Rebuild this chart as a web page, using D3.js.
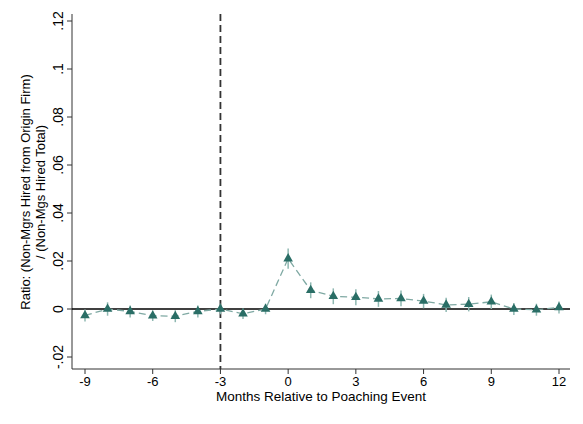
<!DOCTYPE html><html><head><script src="https://cdn.jsdelivr.net/npm/d3@7"></script>
<style>body{margin:0;background:#fff}text{font-family:"Liberation Sans",Arial,sans-serif}</style></head><body><svg id="c" width="583" height="424"></svg><script>
const months=[-9,-8,-7,-6,-5,-4,-3,-2,-1,0,1,2,3,4,5,6,7,8,9,10,11,12];
const ratio=[-0.0027,0,-0.001,-0.0028,-0.003,-0.001,0,-0.002,0,0.021,0.0078,0.0053,0.0049,0.0042,0.0044,0.0033,0.0017,0.002,0.003,0,-0.0003,0.0006];
const ciHalf=[0.0025,0.0028,0.0025,0.0022,0.0025,0.0025,0.0022,0.0022,0.0022,0.0042,0.0033,0.0033,0.0033,0.0033,0.0033,0.003,0.003,0.003,0.003,0.0025,0.0025,0.0025];
const xTicks=[-9,-6,-3,0,3,6,9,12];
const yTicks=[-0.02,0,0.02,0.04,0.06,0.08,0.1,0.12];
const yLabels=["-.02","0",".02",".04",".06",".08",".1",".12"];
const svg=d3.select("#c");
const x=d3.scaleLinear().domain([-9,12]).range([85,559]);
const y=d3.scaleLinear().domain([0,0.02]).range([309,261]);
const L=72,R=570,T=14,B=369;
const col="#2a6e66";
svg.append("line").attr("x1",L).attr("x2",L).attr("y1",T).attr("y2",B).attr("stroke","#333");
svg.append("line").attr("x1",L).attr("x2",R).attr("y1",B).attr("y2",B).attr("stroke","#333");
yTicks.forEach((t,i)=>{svg.append("line").attr("x1",L-5).attr("x2",L).attr("y1",y(t)).attr("y2",y(t)).attr("stroke","#333");
 svg.append("text").attr("transform",`translate(${L-9},${y(t)}) rotate(-90)`).attr("text-anchor","middle").attr("font-size",14).text(yLabels[i]);});
xTicks.forEach(t=>{svg.append("line").attr("x1",x(t)).attr("x2",x(t)).attr("y1",B).attr("y2",B+5).attr("stroke","#333");
 svg.append("text").attr("x",x(t)).attr("y",B+17).attr("text-anchor","middle").attr("font-size",13).text(t);});
svg.append("text").attr("x",(L+R)/2).attr("y",401).attr("text-anchor","middle").attr("font-size",13.5).text("Months Relative to Poaching Event");
svg.append("text").attr("transform",`translate(30,192) rotate(-90)`).attr("text-anchor","middle").attr("font-size",13).text("Ratio: (Non-Mgrs Hired from Origin Firm)");
svg.append("text").attr("transform",`translate(45,192) rotate(-90)`).attr("text-anchor","middle").attr("font-size",13).text("/ (Non-Mgs Hired Total)");
svg.append("line").attr("x1",L).attr("x2",R).attr("y1",y(0)).attr("y2",y(0)).attr("stroke","#000").attr("stroke-width",1.5);
svg.append("line").attr("x1",x(-3)).attr("x2",x(-3)).attr("y1",T).attr("y2",B).attr("stroke","#333").attr("stroke-width",1.8).attr("stroke-dasharray","7,4");
months.forEach((m,i)=>svg.append("line").attr("x1",x(m)).attr("x2",x(m)).attr("y1",y(ratio[i]-ciHalf[i])).attr("y2",y(ratio[i]+ciHalf[i])).attr("stroke","#8fb8b2").attr("stroke-width",1.5));
svg.append("path").datum(months).attr("fill","none").attr("stroke","#7fa9a3").attr("stroke-width",1.3).attr("stroke-dasharray","7,4")
 .attr("d",d3.line().x(m=>x(m)).y((m,i)=>y(ratio[i])));
months.forEach((m,i)=>svg.append("path").attr("transform",`translate(${x(m)},${y(ratio[i])})`).attr("d",d3.symbol(d3.symbolTriangle,40)()).attr("fill",col));
</script></body></html>
